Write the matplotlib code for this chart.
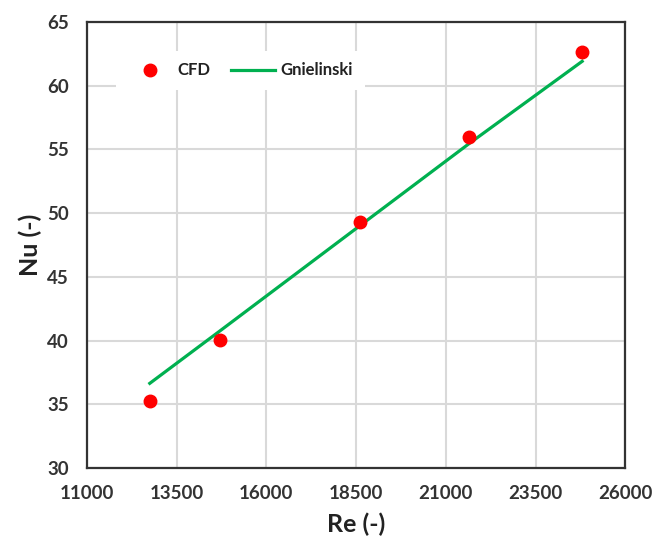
import matplotlib
matplotlib.use("Agg")
import matplotlib.pyplot as plt

# Data
re_cfd = [12750, 14700, 18600, 21650, 24800]
nu_cfd = [35.3, 40.05, 49.3, 56.0, 62.6]
nu_gnielinski = [36.65, 40.75, 49.0, 55.45, 61.9]
x_ticks = [11000, 13500, 16000, 18500, 21000, 23500, 26000]
y_ticks = [30, 35, 40, 45, 50, 55, 60, 65]

plt.rcParams['font.family'] = ['Lato', 'DejaVu Sans']
plt.rcParams['font.weight'] = 'bold'

fig = plt.figure(figsize=(6.54, 5.45), dpi=100)
ax = fig.add_axes([0.133, 0.141, 0.823, 0.819])

ax.plot(re_cfd, nu_gnielinski, color='#00B050', linewidth=2.3, label='Gnielinski', zorder=3)
ax.plot(re_cfd, nu_cfd, linestyle='none', marker='o', markersize=9,
        color='#FF0000', label='CFD', zorder=4)

ax.set_xlim(11000, 26000)
ax.set_ylim(30, 65)
ax.set_xticks(x_ticks)
ax.set_yticks(y_ticks)
ax.tick_params(length=0, labelsize=13.5, colors='#333333')
ax.tick_params(axis='y', pad=13)
ax.tick_params(axis='x', pad=12)
for lab in ax.get_xticklabels() + ax.get_yticklabels():
    lab.set_fontweight('bold')

ax.grid(True, color='#D9D9D9', linewidth=1.5)
ax.set_axisbelow(True)
for s in ax.spines.values():
    s.set_color('#333333')
    s.set_linewidth(1.6)

ax.set_xlabel('Re (-)', fontsize=18, fontweight='bold', color='#222222', labelpad=8)
ax.set_ylabel('Nu (-)', fontsize=18, fontweight='bold', color='#222222', labelpad=4)

handles, labels = ax.get_legend_handles_labels()
leg = ax.legend(handles[::-1], labels[::-1], ncol=2, loc='upper left',
                bbox_to_anchor=(0.054, 0.935), borderaxespad=0, frameon=True,
                fancybox=False, facecolor='white', edgecolor='none', framealpha=1,
                fontsize=12, handlelength=2.65, columnspacing=1.2, handletextpad=0.35,
                borderpad=0.7)
for t in leg.get_texts():
    t.set_fontweight('bold')
    t.set_color('#222222')

fig.savefig('out.png', dpi=100)
